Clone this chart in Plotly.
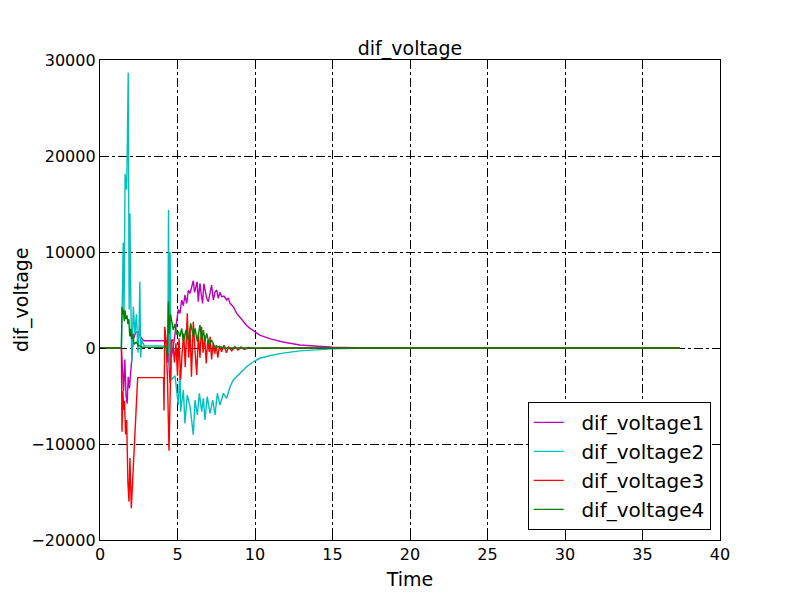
import plotly.graph_objects as go

# dif_voltage1 (magenta)
t1 = [0, 1.38, 1.45, 1.52, 1.6, 1.68, 1.75, 1.82, 1.9, 1.97,
      2.05, 2.15, 2.3, 2.45, 2.6, 2.75, 2.9, 4.33, 4.38, 4.42,
      4.47, 4.52, 4.6, 4.75, 4.95, 5.05, 5.16, 5.27, 5.38, 5.48,
      5.59, 5.7, 5.81, 5.92, 6.02, 6.1, 6.19, 6.27, 6.34, 6.45,
      6.53, 6.62, 6.7, 6.77, 6.88, 6.99, 7.1, 7.2, 7.31, 7.42,
      7.53, 7.63, 7.74, 7.85, 8.0, 8.17, 8.28, 8.39, 8.6, 8.82,
      9.03, 9.25, 9.46, 9.68, 10.0, 10.3, 11.0, 11.8, 12.9, 14.0,
      15.0, 16.5, 18.0, 37.4]
v1 = [0, 0, -2200, -4500, -1200, -5000, -5800, -3000, -4200, -2600,
      -1000, 900, 1600, 1700, 1200, 850, 760, 760, -1500, 900,
      -2500, -3650, -1000, 400, 2800, 4000, 3610, 5000, 4400, 5520,
      4650, 6000, 5700, 6500, 7010, 5800, 6560, 6900, 4830, 6740,
      5600, 4650, 6700, 6040, 5200, 4830, 5800, 6560, 5000, 5800,
      6040, 5170, 5800, 5340, 5400, 5000, 5200, 4650, 4300, 3610,
      3200, 2740, 2350, 2050, 1700, 1350, 950, 620, 310, 160,
      80, 30, 0, 0]

# dif_voltage2 (cyan)
t2 = [0, 1.38, 1.45, 1.5, 1.55, 1.62, 1.67, 1.72, 1.77, 1.82,
      1.88, 1.93, 1.98, 2.05, 2.15, 2.25, 2.35, 2.45, 2.52, 2.57,
      2.62, 2.7, 2.85, 4.33, 4.38, 4.42, 4.47, 4.52, 4.58, 4.84,
      5.05, 5.16, 5.2, 5.38, 5.48, 5.63, 5.81, 6.02, 6.13, 6.28,
      6.41, 6.56, 6.67, 6.77, 6.92, 7.1, 7.27, 7.42, 7.57, 7.74,
      7.96, 8.17, 8.39, 8.6, 9.03, 9.46, 9.89, 10.32, 11.0, 11.8,
      12.9, 14.0, 15.0, 16.5, 18.0, 37.4]
v2 = [0, 0, 6000, 10970, 3000, 18120, 17000, 16500, 22000, 28680,
      4000, 14000, 6000, -1500, 4300, 1500, 3500, -500, 2000, 6900,
      -1000, 800, 250, 200, -500, 14380, -2000, 10000, -3330, -2900,
      -5940, -2290, -6630, -4375, -7850, -4900, -6110, -9060, -5420, -6980,
      -4720, -6630, -5240, -7500, -5070, -6800, -5420, -6980, -4720, -5940,
      -4720, -5240, -4030, -3330, -2640, -1950, -1430, -1070, -780, -540,
      -300, -180, -90, -30, 0, 0]

# dif_voltage3 (red)
t3 = [0, 1.38, 1.42, 1.48, 1.53, 1.58, 1.65, 1.72, 1.8, 1.87,
      1.93, 1.97, 2.02, 2.43, 4.1, 4.13, 4.18, 4.25, 4.35, 4.45,
      4.52, 4.6, 4.7, 4.8, 4.9, 5.0, 5.1, 5.2, 5.3, 5.4,
      5.5, 5.63, 5.72, 5.81, 5.9, 6.02, 6.12, 6.24, 6.35, 6.45,
      6.55, 6.65, 6.75, 6.85, 6.95, 7.05, 7.1, 7.2, 7.3, 7.4,
      7.5, 7.6, 7.7, 7.85, 8.0, 8.15, 8.3, 8.5, 8.7, 8.9,
      9.1, 9.3, 9.6, 10.0, 10.5, 37.4]
v3 = [0, 0, -8720, -4500, -6460, -5500, -9000, -7500, -14000, -16000,
      -11460, -14500, -16700, -3090, -3090, -6500, 2200, 1000, -3000, -10700,
      -5000, 800, 850, -1500, 500, -2900, 1000, -3300, -500, 1500,
      -2000, 3610, -1000, 2050, -3000, 2740, 0, -2810, 1500, -1000,
      2200, -500, 1300, -1600, 800, -400, 1180, -1200, 500, -600,
      300, -1000, 200, -400, 300, -500, 100, -300, 150, -200,
      100, -150, 50, -50, 0, 0]

# dif_voltage4 (green)
t4 = [0, 1.38, 1.42, 1.47, 1.52, 1.57, 1.62, 1.68, 1.74, 1.8,
      1.86, 1.92, 1.98, 2.05, 2.12, 2.2, 2.35, 2.5, 2.7, 3.0,
      4.3, 4.35, 4.41, 4.47, 4.55, 4.62, 4.73, 4.84, 4.95, 5.05,
      5.16, 5.27, 5.38, 5.55, 5.7, 5.85, 6.02, 6.13, 6.28, 6.45,
      6.56, 6.67, 6.77, 6.88, 7.06, 7.2, 7.42, 7.7, 8.0, 37.4]
v4 = [0, 0, 4300, 3500, 4000, 2800, 3900, 3000, 3400, 2500,
      3000, 1200, 2000, 900, 1500, 400, 600, 250, 100, 60,
      60, -900, 4830, 1500, 3500, 2920, 1875, 2500, 1400, 1700,
      1180, 2050, 660, 1875, 830, 2570, 1180, 2050, 660, 2390,
      830, 1875, 660, 1530, 320, 830, 60, 150, 0, 0]

series = [
    ('dif_voltage1', t1, v1, '#bf00bf'),
    ('dif_voltage2', t2, v2, '#00bfbf'),
    ('dif_voltage3', t3, v3, '#ff0000'),
    ('dif_voltage4', t4, v4, '#008000'),
]

fig = go.Figure()
for name, t, v, color in series:
    # nbsp padding mimics the wider gap between handle and label in the legend
    fig.add_trace(go.Scatter(x=t, y=v, name='\u00a0\u00a0' + name, mode='lines',
                             line=dict(color=color, width=1.4)))

axis_style = dict(
    showline=True, linecolor='black', linewidth=1.3, mirror='ticks',
    ticks='inside', ticklen=6, tickcolor='black',
    showgrid=True, gridcolor='black', griddash='dashdot', gridwidth=0.8,
    zeroline=False, tickfont=dict(size=16, color='black'),
    automargin=False,
)

# page body adds an 8px offset, so margins are shifted to put the plot at 100..720 x 60..540
fig.update_layout(
    width=800, height=600,
    margin=dict(l=92, r=88, t=52, b=68),
    paper_bgcolor='white', plot_bgcolor='white',
    font=dict(family='DejaVu Sans', color='black'),
    title=dict(text='dif_voltage', x=0.5, xref='paper', y=1 - 40 / 600,
               yanchor='middle', font=dict(size=19), automargin=False),
    xaxis=dict(range=[0, 40], dtick=5, tickformat='d',
               title=dict(text='Time', font=dict(size=19), standoff=9),
               **axis_style),
    yaxis=dict(range=[-20000, 30000], dtick=10000, tickformat='d', **axis_style),
    legend=dict(x=0.985, xanchor='right', y=0.021, yanchor='bottom',
                bordercolor='black', borderwidth=1, bgcolor='white',
                font=dict(size=20), itemwidth=30),
    showlegend=True,
)

# y label placed by hand, as far left as the page allows
fig.add_annotation(text='dif_voltage', textangle=-90, showarrow=False,
                   xref='paper', yref='paper', x=(13 - 92) / 620, y=0.5,
                   xanchor='center', yanchor='middle', font=dict(size=19))

fig.write_html("out.html")
